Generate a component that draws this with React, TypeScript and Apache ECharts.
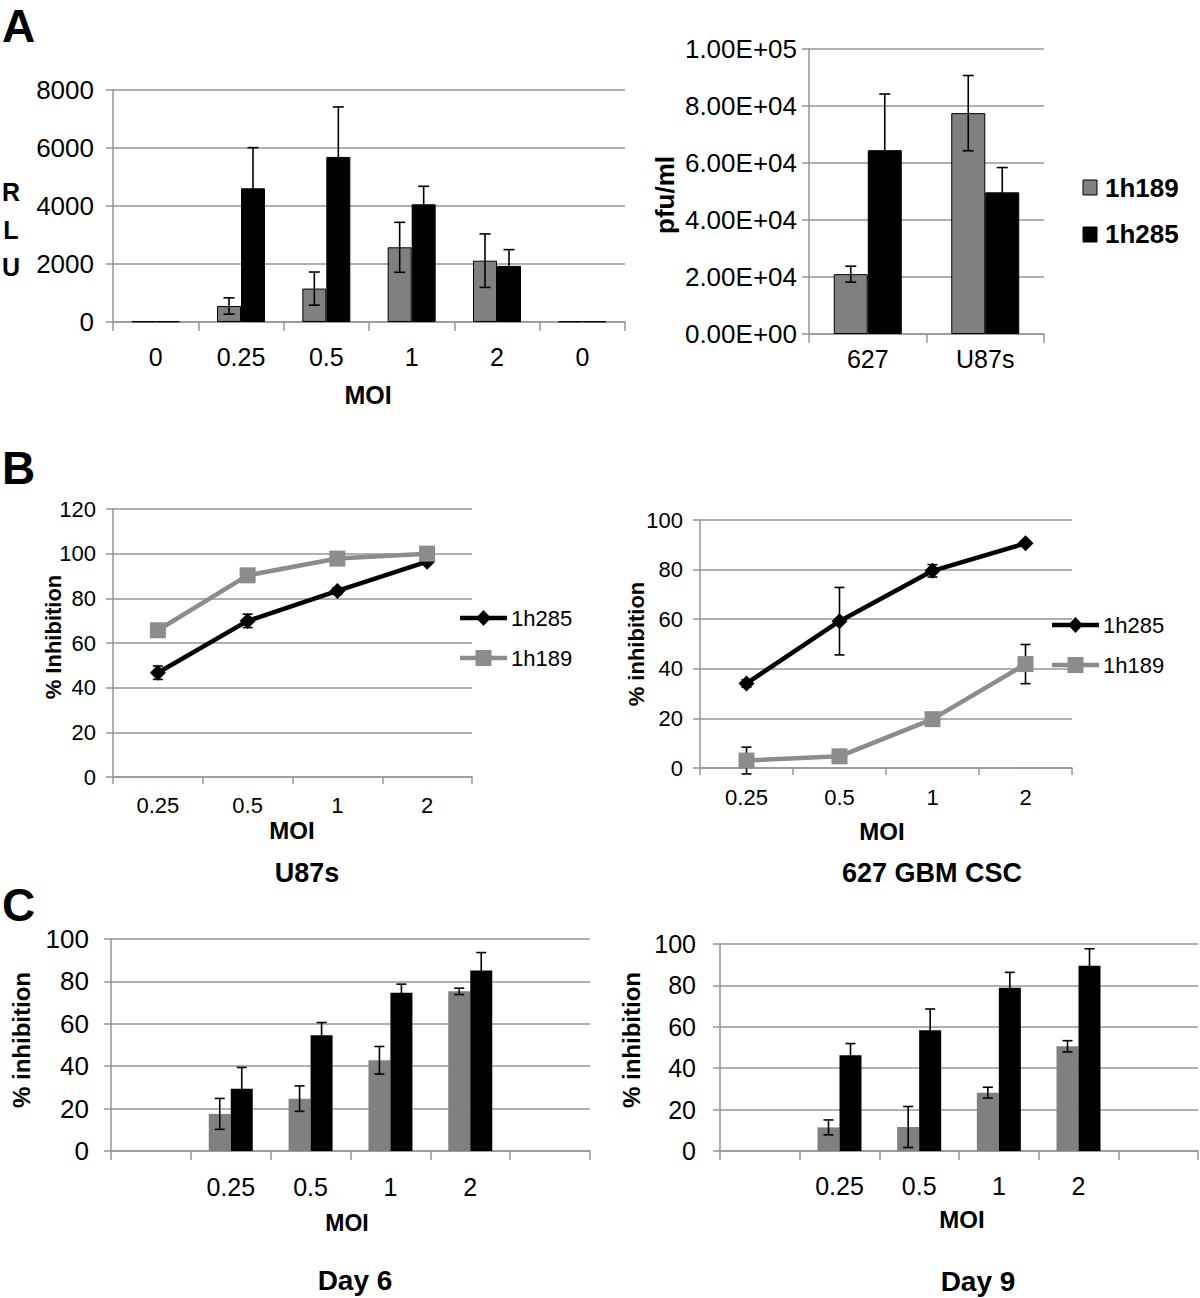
import React, { useEffect, useRef } from "react";
import * as echarts from "echarts";

// ---------- data ----------
const aLeftCats = ["0", "0.25", "0.5", "1", "2", "0"];
const aLeft1h189 = [20, 550, 1150, 2570, 2110, 20];
const aLeft1h189Err = [0, 280, 570, 860, 920, 0];
const aLeft1h285 = [20, 4600, 5680, 4050, 1930, 20];
const aLeft1h285Err = [0, 1400, 1720, 620, 560, 0];
const aLeftTicks = [0, 2000, 4000, 6000, 8000];

const aRightCats = ["627", "U87s"];
const aRight1h189 = [21000, 77500];
const aRight1h189Err = [2800, 13200];
const aRight1h285 = [64500, 49700];
const aRight1h285Err = [19700, 8700];

const bCats = ["0.25", "0.5", "1", "2"];
const bLeft1h285 = [46.7, 69.9, 83.3, 96.4];
const bLeft1h285Err = [3, 3, 1.5, 1];
const bLeft1h189 = [65.7, 90.3, 97.8, 100];
const bLeft1h189Err = [0, 0, 0, 0];
const bRight1h285 = [34.1, 59.2, 79.5, 90.6];
const bRight1h285Err = [1.5, 13.6, 2.5, 1];
const bRight1h189 = [3.0, 4.7, 19.7, 41.9];
const bRight1h189Err = [5.4, 1, 1, 7.9];

const cCats = ["", "0.25", "0.5", "1", "2", ""];
const cDay6Gray = [null, 17.5, 24.7, 42.8, 75.3, null];
const cDay6GrayErr = [0, 7.3, 6, 6.5, 1.5, 0];
const cDay6Black = [null, 29.4, 54.6, 74.7, 85.1, null];
const cDay6BlackErr = [0, 10, 6, 4, 8.5, 0];
const cDay9Gray = [null, 11.4, 11.6, 28.2, 50.6, null];
const cDay9GrayErr = [0, 3.6, 9.9, 2.6, 2.7, 0];
const cDay9Black = [null, 46.2, 58.3, 78.9, 89.5, null];
const cDay9BlackErr = [0, 5.7, 10.3, 7.4, 8.2, 0];

// ---------- styling ----------
const FONT = "'Liberation Sans', Arial, Helvetica, sans-serif";
const GRID_COLOR = "#969696";
const GRAY_BAR = "#808080";
const GRAY_LINE = "#8c8c8c";

function catAxis(gridIndex: number, data: string[], fontSize: number, margin: number, tickLen: number) {
  return {
    type: "category",
    gridIndex,
    data,
    boundaryGap: true,
    axisLine: { show: true, lineStyle: { color: GRID_COLOR, width: 1.5 } },
    axisTick: { show: true, length: tickLen, interval: 0, alignWithLabel: false, lineStyle: { color: GRID_COLOR, width: 1.5 } },
    axisLabel: { color: "#000", fontSize, margin, fontFamily: FONT, interval: 0 },
    splitLine: { show: false },
  };
}

const plainFmt = (v: number) => String(v);

function valAxis(gridIndex: number, max: number, interval: number, fontSize: number, margin: number, formatter: any = plainFmt) {
  return {
    type: "value",
    gridIndex,
    min: 0,
    max,
    interval,
    axisLine: { show: true, lineStyle: { color: GRID_COLOR, width: 1.5 } },
    axisTick: { show: true, length: 7, lineStyle: { color: GRID_COLOR, width: 1.5 } },
    axisLabel: { color: "#000", fontSize, margin, fontFamily: FONT, formatter },
    splitLine: { show: true, lineStyle: { color: GRID_COLOR, width: 1.5 } },
  };
}

function errSeries(axisIndex: number, values: (number | null)[], errs: number[], offset: number, cap: number, z: number) {
  const data: number[][] = [];
  values.forEach((v, i) => {
    if (v !== null && errs[i] > 0) data.push([i, v, errs[i]]);
  });
  return {
    type: "custom",
    xAxisIndex: axisIndex,
    yAxisIndex: axisIndex,
    z,
    silent: true,
    data,
    renderItem: (_params: any, api: any) => {
      const x = api.value(0);
      const v = api.value(1);
      const e = api.value(2);
      const top = api.coord([x, v + e]);
      const bot = api.coord([x, v - e]);
      const cx = top[0] + offset;
      const style = { stroke: "#000", lineWidth: 1.6 };
      return {
        type: "group",
        children: [
          { type: "line", shape: { x1: cx, y1: top[1], x2: cx, y2: bot[1] }, style },
          { type: "line", shape: { x1: cx - cap, y1: top[1], x2: cx + cap, y2: top[1] }, style },
          { type: "line", shape: { x1: cx - cap, y1: bot[1], x2: cx + cap, y2: bot[1] }, style },
        ],
      };
    },
  };
}

function barSeries(axisIndex: number, name: string | undefined, data: (number | null)[], color: string, width: number, border: boolean) {
  return {
    type: "bar",
    name,
    xAxisIndex: axisIndex,
    yAxisIndex: axisIndex,
    data,
    barWidth: width,
    barGap: "0%",
    z: 2,
    itemStyle: { color, borderColor: border ? "#000" : color, borderWidth: border ? 1 : 0 },
  };
}

function lineSeries(axisIndex: number, data: number[], color: string, symbol: string, size: number) {
  return {
    type: "line",
    xAxisIndex: axisIndex,
    yAxisIndex: axisIndex,
    data,
    symbol,
    symbolSize: size,
    z: 4,
    lineStyle: { color, width: 4.5 },
    itemStyle: { color, borderWidth: 0 },
  };
}

function txt(text: string, x: number, y: number, size: number, bold: boolean, align = "center", rotation = 0) {
  return {
    type: "text",
    x,
    y,
    rotation,
    z: 10,
    style: {
      text,
      fill: "#000",
      font: `${bold ? "bold " : ""}${size}px ${FONT}`,
      align,
      verticalAlign: "middle",
    },
  };
}

function legendLine(x1: number, x2: number, y: number, color: string, marker: "diamond" | "square", label: string) {
  const mx = (x1 + x2) / 2;
  const m =
    marker === "diamond"
      ? {
          type: "polygon",
          z: 11,
          shape: { points: [[mx, y - 8], [mx + 7.5, y], [mx, y + 8], [mx - 7.5, y]] },
          style: { fill: color },
        }
      : { type: "rect", z: 11, shape: { x: mx - 8, y: y - 8, width: 16, height: 16 }, style: { fill: color } };
  return [
    { type: "line", z: 10, shape: { x1, y1: y, x2, y2: y }, style: { stroke: color, lineWidth: 4.5 } },
    m,
    txt(label, x2 + 4, y, 22, false, "left"),
  ];
}

const expFmt = (v: number) =>
  v.toExponential(2).toUpperCase().replace(/E([+-])(\d)$/, "E$10$2");

export default function App() {
  const ref = useRef<HTMLDivElement>(null);
  useEffect(() => {
    if (!ref.current) return;
    const chart = echarts.init(ref.current, undefined, { renderer: "svg" });
    const option: any = {
      animation: false,
      backgroundColor: "#ffffff",
      grid: [
        { left: 113, top: 89.5, width: 512, height: 232.5 },
        { left: 809, top: 49, width: 235, height: 285 },
        { left: 113, top: 509, width: 359, height: 268 },
        { left: 700, top: 520, width: 372, height: 248 },
        { left: 111, top: 939, width: 479, height: 212 },
        { left: 720, top: 944, width: 478, height: 207 },
      ],
      xAxis: [
        catAxis(0, aLeftCats, 25, 22, 9),
        catAxis(1, aRightCats, 25, 12, 9),
        catAxis(2, bCats, 22, 17, 7),
        catAxis(3, bCats, 22, 18, 7),
        catAxis(4, cCats, 25, 23, 9),
        catAxis(5, cCats, 25, 22, 9),
      ],
      yAxis: [
        valAxis(0, aLeftTicks[aLeftTicks.length - 1], aLeftTicks[1] - aLeftTicks[0], 26, 19),
        valAxis(1, 100000, 20000, 26, 12, expFmt),
        valAxis(2, 120, 20, 22, 17),
        valAxis(3, 100, 20, 22, 17),
        valAxis(4, 100, 20, 26, 22),
        valAxis(5, 100, 20, 25, 24),
      ],
      series: [
        // A left
        barSeries(0, undefined, aLeft1h189, GRAY_BAR, 24, true),
        barSeries(0, undefined, aLeft1h285, "#000", 24, true),
        errSeries(0, aLeft1h189, aLeft1h189Err, -12, 5.5, 5),
        errSeries(0, aLeft1h285, aLeft1h285Err, 12, 5.5, 5),
        // A right
        barSeries(1, "1h189", aRight1h189, GRAY_BAR, 34, true),
        barSeries(1, "1h285", aRight1h285, "#000", 34, true),
        errSeries(1, aRight1h189, aRight1h189Err, -17, 5.5, 5),
        errSeries(1, aRight1h285, aRight1h285Err, 17, 5.5, 5),
        // B left
        errSeries(2, bLeft1h285, bLeft1h285Err, 0, 5, 3),
        errSeries(2, bLeft1h189, bLeft1h189Err, 0, 5, 3),
        lineSeries(2, bLeft1h285, "#000", "diamond", 16),
        lineSeries(2, bLeft1h189, GRAY_LINE, "rect", 16),
        // B right
        errSeries(3, bRight1h285, bRight1h285Err, 0, 5, 3),
        errSeries(3, bRight1h189, bRight1h189Err, 0, 5, 3),
        lineSeries(3, bRight1h285, "#000", "diamond", 16),
        lineSeries(3, bRight1h189, GRAY_LINE, "rect", 16),
        // C left (Day 6)
        barSeries(4, undefined, cDay6Gray, GRAY_BAR, 22, false),
        barSeries(4, undefined, cDay6Black, "#000", 22, false),
        errSeries(4, cDay6Gray, cDay6GrayErr, -11, 5, 5),
        errSeries(4, cDay6Black, cDay6BlackErr, 11, 5, 5),
        // C right (Day 9)
        barSeries(5, undefined, cDay9Gray, GRAY_BAR, 22, false),
        barSeries(5, undefined, cDay9Black, "#000", 22, false),
        errSeries(5, cDay9Gray, cDay9GrayErr, -11, 5, 5),
        errSeries(5, cDay9Black, cDay9BlackErr, 11, 5, 5),
      ],
      graphic: [
        // panel letters
        txt("A", 2, 26, 46, true, "left"),
        txt("B", 2, 468, 46, true, "left"),
        txt("C", 2, 905, 46, true, "left"),
        // A left
        txt("R", 11, 192, 25, true),
        txt("L", 11, 230, 25, true),
        txt("U", 11, 267, 25, true),
        txt("MOI", 368, 395, 25, true),
        // A right
        txt("pfu/ml", 665, 195, 26, true, "center", Math.PI / 2),
        { type: "rect", z: 10, shape: { x: 1083, y: 180, width: 14, height: 15 }, style: { fill: GRAY_BAR, stroke: "#000", lineWidth: 1 } },
        txt("1h189", 1105, 188, 26, true, "left"),
        { type: "rect", z: 10, shape: { x: 1083, y: 227, width: 14, height: 15 }, style: { fill: "#000", stroke: "#000", lineWidth: 1 } },
        txt("1h285", 1105, 234, 26, true, "left"),
        // B left
        txt("% Inhibition", 53, 637, 22, true, "center", Math.PI / 2),
        txt("MOI", 292, 830, 24, true),
        txt("U87s", 307, 873, 27, true),
        ...legendLine(460, 507, 618, "#000", "diamond", "1h285"),
        ...legendLine(460, 507, 658, GRAY_LINE, "square", "1h189"),
        // B right
        txt("% inhibition", 636, 644, 22, true, "center", Math.PI / 2),
        txt("MOI", 882, 831, 24, true),
        txt("627 GBM CSC", 932, 873, 27, true),
        ...legendLine(1052, 1099, 625, "#000", "diamond", "1h285"),
        ...legendLine(1052, 1099, 665, GRAY_LINE, "square", "1h189"),
        // C left
        txt("% inhibition", 21, 1040, 24, true, "center", Math.PI / 2),
        txt("MOI", 347, 1223, 23, true),
        txt("Day 6", 355, 1280, 28, true),
        // C right
        txt("% inhibition", 631, 1040, 24, true, "center", Math.PI / 2),
        txt("MOI", 962, 1219, 24, true),
        txt("Day 9", 978, 1281, 28, true),
      ],
    };
    chart.setOption(option);
    return () => chart.dispose();
  }, []);
  return (
    <div
      ref={ref}
      style={{ position: "absolute", left: 0, top: 0, width: 1200, height: 1298, background: "#fff" }}
    />
  );
}
